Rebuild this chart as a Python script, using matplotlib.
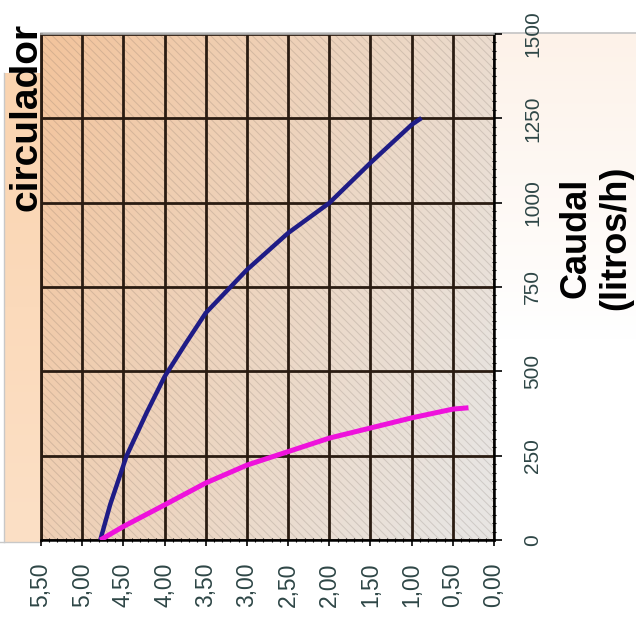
import numpy as np
import matplotlib
matplotlib.use("Agg")
import matplotlib.pyplot as plt
from matplotlib.patches import Rectangle
from matplotlib.ticker import MultipleLocator

plt.rcParams['font.family'] = ['Liberation Sans', 'DejaVu Sans']
plt.rcParams['hatch.linewidth'] = 0.7

# Pump curve (blue) and circuit curve (magenta): head vs flow
pressure_blue = [4.78, 4.66, 4.46, 4.22, 4.00, 3.74, 3.50, 3.00, 2.50,
                 2.00, 1.50, 1.00, 0.88]
flow_blue = [0, 105, 250, 376, 484, 584, 673, 801, 910, 999, 1118, 1231, 1251]

pressure_pink = [4.78, 4.50, 4.00, 3.50, 3.00, 2.50, 2.00, 1.50, 1.00, 0.50, 0.31]
flow_pink = [0, 40, 104, 169, 222, 262, 302, 332, 362, 388, 392]

x_ticks = [5.5, 5.0, 4.5, 4.0, 3.5, 3.0, 2.5, 2.0, 1.5, 1.0, 0.5, 0.0]
x_labels = ["5,50", "5,00", "4,50", "4,00", "3,50", "3,00",
            "2,50", "2,00", "1,50", "1,00", "0,50", "0,00"]
y_ticks = [0, 250, 500, 750, 1000, 1250, 1500]
y_labels = ["0", "250", "500", "750", "1000", "1250", "1500"]

W, H = 636, 638
fig = plt.figure(figsize=(W / 100, H / 100), dpi=100)

# ---- chart-area background (pixel-space helper axes) ----
bg = fig.add_axes([0, 0, 1, 1], zorder=-10)
bg.set_xlim(0, W)
bg.set_ylim(H, 0)
bg.axis('off')

def vgrad(c_top, c_bot, n=200):
    t = np.linspace(0, 1, n)[:, None, None]
    a = np.array(c_top, float)[None, None, :] / 255
    b = np.array(c_bot, float)[None, None, :] / 255
    return a * (1 - t) + b * t

bg.imshow(vgrad((250, 212, 176), (252, 224, 198)), extent=(4, 41, 542, 73),
          aspect='auto', interpolation='bilinear')
bg.imshow(vgrad((253, 242, 233), (255, 255, 255)), extent=(494, W, 340, 33),
          aspect='auto', interpolation='bilinear')
bg.plot([41, W], [33, 33], color='#c4c4c4', lw=1.2)
bg.plot([4, 4], [73, 542], color='#c8c8c8', lw=1.0)
bg.plot([0, 41], [542, 542], color='#c8c8c8', lw=1.0)

# ---- plot area ----
ax = fig.add_axes([41 / W, 1 - 540 / H, 453 / W, 506 / H])
ax.patch.set_alpha(0)

ny, nx = 120, 160
xf = np.linspace(0, 1, nx)[None, :]
yf = np.linspace(0, 1, ny)[:, None]
t = np.clip(0.72 * xf + 0.35 * yf, 0, 1)[..., None]
c1 = np.array([243, 196, 156]) / 255
c2 = np.array([232, 229, 226]) / 255
grad = c1 * (1 - t) + c2 * t
ax.imshow(grad, extent=(5.5, 0, 0, 1500), aspect='auto',
          interpolation='bilinear', origin='upper', zorder=0)
ax.add_patch(Rectangle((0, 0), 1, 1, transform=ax.transAxes, fill=False,
                       hatch='\\\\\\\\', edgecolor=(0.40, 0.36, 0.33, 0.20),
                       lw=0, zorder=0.3))

ax.plot(pressure_blue, flow_blue, color='#1f1c86', lw=3.2, zorder=3,
        solid_capstyle='butt', solid_joinstyle='round')
ax.plot(pressure_pink, flow_pink, color='#ee12dc', lw=3.6, zorder=3,
        solid_capstyle='butt', solid_joinstyle='round')

ax.set_xlim(5.5, 0)
ax.set_ylim(0, 1500)

ax.set_axisbelow(True)
ax.grid(True, which='major', color='#2a1c12', lw=2.0)

tick_color = '#2e4646'
ax.set_xticks(x_ticks)
ax.set_xticklabels(x_labels, rotation=90)
ax.xaxis.set_minor_locator(MultipleLocator(0.1))
ax.tick_params(axis='x', which='major', direction='out', length=4.5,
               width=1.2, pad=12, labelsize=16.5, labelcolor=tick_color)
ax.tick_params(axis='x', which='minor', direction='inout', length=3,
               width=0.8)

ax.yaxis.tick_right()
ax.set_yticks(y_ticks)
ax.set_yticklabels(y_labels, rotation=90)
ax.yaxis.set_minor_locator(MultipleLocator(25))
ax.tick_params(axis='y', which='major', direction='out', length=6,
               width=1.2, pad=15, labelsize=15, labelcolor=tick_color,
               left=False, right=True)
ax.tick_params(axis='y', which='minor', direction='inout', length=3,
               width=0.8, left=False, right=True)
for lab in ax.get_yticklabels():
    lab.set_va('center')

ax.spines['bottom'].set_color('black')
ax.spines['bottom'].set_linewidth(1.8)
ax.spines['right'].set_color('black')
ax.spines['right'].set_linewidth(1.8)
ax.spines['left'].set_color('#2a1c12')
ax.spines['left'].set_linewidth(2.0)
ax.spines['top'].set_color('#b0b0b0')
ax.spines['top'].set_linewidth(1.2)

# ---- titles ----
fig.text(37 / W, 1 - 117 / H, "circulador", rotation=90,
         rotation_mode='anchor', ha='center', va='baseline',
         fontsize=28, fontweight='bold', color='black')
fig.text(596 / W, 1 - 238 / H, "Caudal\n(litros/h)", rotation=90,
         rotation_mode='anchor', ha='center', va='center',
         multialignment='center', fontsize=26, fontweight='bold',
         color='black')

fig.savefig("out.png", dpi=100)
